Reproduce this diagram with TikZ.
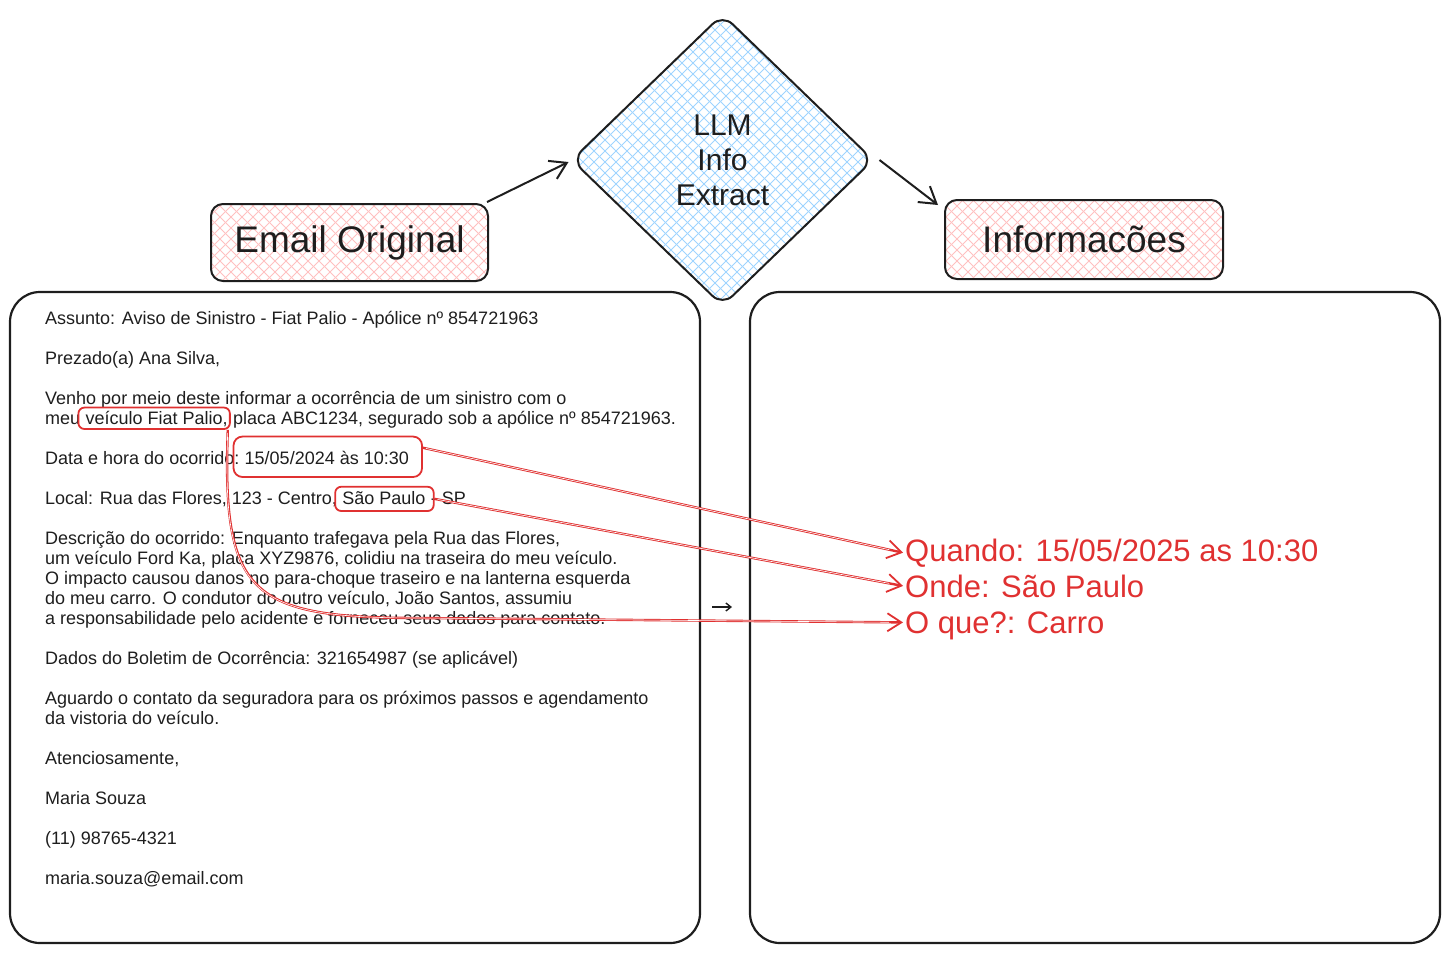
\documentclass[tikz,border=0pt]{standalone}
\usepackage{fontspec}
\setmainfont{Liberation Sans}
\usetikzlibrary{arrows.meta,shapes.geometric,patterns.meta,fit,calc}

\definecolor{ink}{HTML}{1E1E1E}
\definecolor{exred}{HTML}{E03131}
\definecolor{hpink}{HTML}{FFC0C0}
\definecolor{hblue}{HTML}{9ED4FF}

\tikzdeclarepattern{
  name=xhatch,
  type=uncolored,
  bounding box={(-5.5pt,-5.5pt) and (5.5pt,5.5pt)},
  tile size={(11pt,11pt)},
  code={
    \draw[line width=1pt] (-6pt,-6pt) -- (6pt,6pt);
    \draw[line width=1pt] (-6pt,6pt) -- (6pt,-6pt);
  }
}

\tikzset{
  lbl/.style={draw=ink, line width=2pt, rounded corners=12pt, pattern=xhatch, pattern color=hpink,
    minimum width=277pt, minimum height=77pt, font=\fontsize{37}{40}\selectfont, text=ink},
  panel/.style={draw=ink, line width=2.2pt, rounded corners=30pt, inner sep=0pt},
  txt/.style={inner sep=0pt, anchor=base west, font=\fontsize{18}{20}\selectfont, text=ink},
  hl/.style={draw=exred, line width=1.8pt, rounded corners=6pt, inner sep=0pt},
  redarr/.style={draw=exred, line width=2.4pt, -{Straight Barb[length=14pt,width=18pt,line width=1.8pt]}},
  carve/.style={draw=white, line width=0.6pt, shorten >=14pt, shorten <=3pt},
  blkarr/.style={draw=ink, line width=2pt, -{Straight Barb[length=16pt,width=20pt,line width=2pt]}},
  res/.style={anchor=base west, inner sep=2pt, text=exred, font=\fontsize{31}{34}\selectfont},
}

\begin{document}
\begin{tikzpicture}[x=1pt,y=-1pt]
\useasboundingbox (0,0) rectangle (1450,954);

% panels
\node[panel, minimum width=690pt, minimum height=651pt] (mailpanel) at (355,617.5) {};
\node[panel, minimum width=690pt, minimum height=651pt] (outpanel) at (1095,617.5) {};

% header labels
\node[lbl] (eo) at (349.5,242.5) {\raisebox{-3pt}{Email Original}};
\node[lbl, minimum width=278pt, minimum height=79pt] (info) at (1084,239.5) {Informacões};

% diamond
\node[diamond, draw=ink, line width=2pt, rounded corners=14pt, pattern=xhatch, pattern color=hblue,
  minimum width=302pt, minimum height=292pt, inner sep=0pt, align=center,
  font=\fontsize{30}{35}\selectfont, text=ink] (llm) at (722.5,160) {LLM\\Info\\Extract};

\draw[blkarr] ([xshift=-2pt,yshift=1pt]eo.north east) -- ([xshift=-2pt,yshift=-2pt]llm.west);
\draw[blkarr] ([xshift=5pt]llm.east) -- ([xshift=-6pt,yshift=-6pt]info.north west);

% email text
\node[txt] (t1) at (45,324) {Assunto: Aviso de Sinistro - Fiat Palio - Apólice nº 854721963};
\node[txt] (t2) at (45,364) {Prezado(a) Ana Silva,};
\node[txt] (t3) at (45,404) {Venho por meio deste informar a ocorrência de um sinistro com o};
\node[txt] (l5a) at (45,424) {meu};
\node[txt] (veic) at ([xshift=5pt]l5a.base east) {veículo Fiat Palio,};
\node[txt] (l5c) at ([xshift=5pt]veic.base east) {placa ABC1234, segurado sob a apólice nº 854721963.};
\node[txt] (l6a) at (45,464) {Data e hora do ocorrido:};
\node[txt] (date) at ([xshift=5pt]l6a.base east) {15/05/2024 às 10:30};
\node[txt] (l7a) at (45,504) {Local: Rua das Flores, 123 - Centro,};
\node[txt] (sp) at ([xshift=5pt]l7a.base east) {São Paulo};
\node[txt] (l7c) at ([xshift=5pt]sp.base east) {- SP};
\foreach \yy/\linetext in {
  544/{Descrição do ocorrido: Enquanto trafegava pela Rua das Flores,},
  564/{um veículo Ford Ka, placa XYZ9876, colidiu na traseira do meu veículo.},
  584/{O impacto causou danos no para-choque traseiro e na lanterna esquerda},
  604/{do meu carro. O condutor do outro veículo, João Santos, assumiu},
  624/{a responsabilidade pelo acidente e forneceu seus dados para contato.},
  664/{Dados do Boletim de Ocorrência: 321654987 (se aplicável)},
  704/{Aguardo o contato da seguradora para os próximos passos e agendamento},
  724/{da vistoria do veículo.},
  764/{Atenciosamente,},
  804/{Maria Souza},
  844/{(11) 98765-4321},
  884/{maria.souza@email.com}} {
  \node[txt] (body\yy) at (45,\yy) {\linetext};
}

% highlight boxes
\node[hl, fit={([xshift=-7pt,yshift=-5pt]veic.base west) ([xshift=2pt,yshift=3pt]veic.north east)}] (vbox) {};
\node[hl, rounded corners=9pt, fit={([xshift=-11pt,yshift=-13pt]date.base west) ([xshift=13pt,yshift=14pt]date.north east)}] (datebox) {};
\node[hl, fit={([xshift=-7pt,yshift=-7pt]sp.base west) ([xshift=8pt,yshift=4pt]sp.north east)}] (spbox) {};

% results
\node[res] (q) at (903,561) {Quando: 15/05/2025 as 10:30};
\node[res] (o) at (903,597) {Onde: São Paulo};
\node[res] (w) at (903,633) {O que?: Carro};

\draw[redarr] ([yshift=9pt]datebox.east) -- (q.west);
\draw[carve] ([yshift=9pt]datebox.east) -- (q.west);
\draw[redarr] (spbox.east) -- (o.west);
\draw[carve] (spbox.east) -- (o.west);
\draw[redarr] ([xshift=-3pt]vbox.south east) .. controls (222,595) and (250,618) .. (420,618) -- ([yshift=3pt]w.west);
\draw[carve] ([xshift=-3pt]vbox.south east) .. controls (222,595) and (250,618) .. (420,618) -- ([yshift=3pt]w.west);

% small stray arrow
\coordinate (sa) at (712,607);
\coordinate (sb) at (732,607);
\draw[ink, line width=1.4pt, -{Straight Barb[length=5pt,width=8pt]}] (sa) -- (sb);
\end{tikzpicture}
\end{document}
